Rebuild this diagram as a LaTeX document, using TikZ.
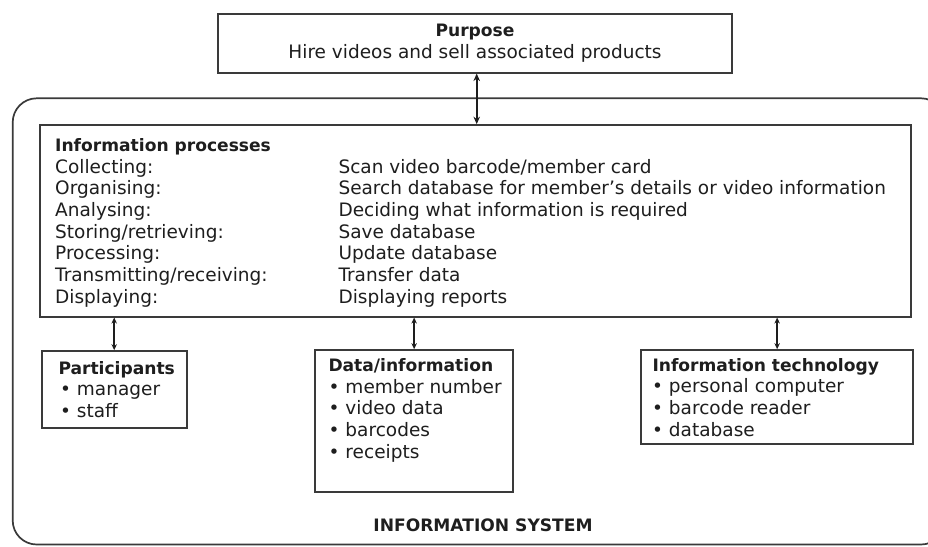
\documentclass[tikz,border=0pt]{standalone}
\usepackage{fontspec}
\setmainfont{DejaVu Sans}
\usetikzlibrary{arrows.meta}
\definecolor{ink}{HTML}{1E1E1E}
\definecolor{edge}{HTML}{3A3A3A}
\begin{document}
\begin{tikzpicture}[x=1pt,y=-1pt,
  box/.style={draw=edge, line width=1.7pt, rectangle, inner sep=0pt},
  reg/.style={anchor=base west, inner sep=0pt, text=ink, font=\fontsize{18.5}{21.7}\selectfont},
  hdr/.style={anchor=base west, inner sep=0pt, text=ink, font=\fontsize{17.1}{21}\selectfont\bfseries},
  link/.style={draw=ink, line width=1.5pt, {Stealth[length=6pt,width=5.5pt]}-{Stealth[length=6pt,width=5.5pt]}},
  biglink/.style={draw=ink, line width=1.7pt, {Stealth[length=7.5pt,width=6.5pt]}-{Stealth[length=7.5pt,width=6.5pt]}}
]
\useasboundingbox (0,0) rectangle (928,546);
\clip (0,0) rectangle (928,546);
\fill[white] (0,0) rectangle (928,546);

% frames
\node[box, rounded corners=24pt, minimum width=932.3pt, minimum height=446.2pt] (sys) at (478.85,321.4) {};
\node[box, minimum width=513.4pt, minimum height=58.7pt] (purpose) at (475,43.35) {};
\node[box, fill=white, minimum width=870.7pt, minimum height=191.7pt] (proc) at (475.35,220.85) {};
\node[box, minimum width=145pt, minimum height=76.7pt] (part) at (114.2,389.35) {};
\node[box, minimum width=198.3pt, minimum height=141.7pt] (data) at (414.15,420.85) {};
\node[box, minimum width=271.7pt, minimum height=94pt] (tech) at (777.15,397) {};

% connectors
\coordinate (topx) at (476.7,0);
\draw[biglink] (topx |- purpose.south) -- (topx |- proc.north);
\draw[link] (part.north |- proc.south) -- (part.north);
\draw[link] (data.north |- proc.south) -- (data.north);
\draw[link] (tech.north |- proc.south) -- (tech.north);

% purpose
\node[hdr, anchor=base] (purT) at (475,36) {Purpose};
\node[reg, anchor=base] (purL) at (475,58) {Hire videos and sell associated products};

% information processes
\node[hdr] (procT) at (55,151.5) {Information processes};
\node[reg] (pl1) at (55,173) {Collecting:};
\node[reg] (pl2) at (55,194.7) {Organising:};
\node[reg] (pl3) at (55,216.3) {Analysing:};
\node[reg] (pl4) at (55,238) {Storing/retrieving:};
\node[reg] (pl5) at (55,259.7) {Processing:};
\node[reg] (pl6) at (55,281.3) {Transmitting/receiving:};
\node[reg] (pl7) at (55,303) {Displaying:};
\node[reg] (pr1) at (338.3,173) {Scan video barcode/member card};
\node[reg] (pr2) at (338.3,194.7) {Search database for member's details or video information};
\node[reg] (pr3) at (338.3,216.3) {Deciding what information is required};
\node[reg] (pr4) at (338.3,238) {Save database};
\node[reg] (pr5) at (338.3,259.7) {Update database};
\node[reg] (pr6) at (338.3,281.3) {Transfer data};
\node[reg] (pr7) at (338.3,303) {Displaying reports};

% participants
\node[hdr] (partT) at (58.3,374) {Participants};
\node[reg] (part1) at (60,395.5) {• manager};
\node[reg] (part2) at (60,417) {• staff};

% data / information
\node[hdr] (dataT) at (328.3,371) {Data/information};
\node[reg] (data1) at (328.5,393) {• member number};
\node[reg] (data2) at (328.5,414.7) {• video data};
\node[reg] (data3) at (328.5,436.3) {• barcodes};
\node[reg] (data4) at (328.5,458) {• receipts};

% information technology
\node[hdr] (techT) at (652.3,371) {Information technology};
\node[reg] (tech1) at (652,392.7) {• personal computer};
\node[reg] (tech2) at (652,414.3) {• barcode reader};
\node[reg] (tech3) at (652,436) {• database};

% system label
\node[hdr, anchor=base] (sysT) at (483,531.7) {INFORMATION SYSTEM};
\end{tikzpicture}
\end{document}
